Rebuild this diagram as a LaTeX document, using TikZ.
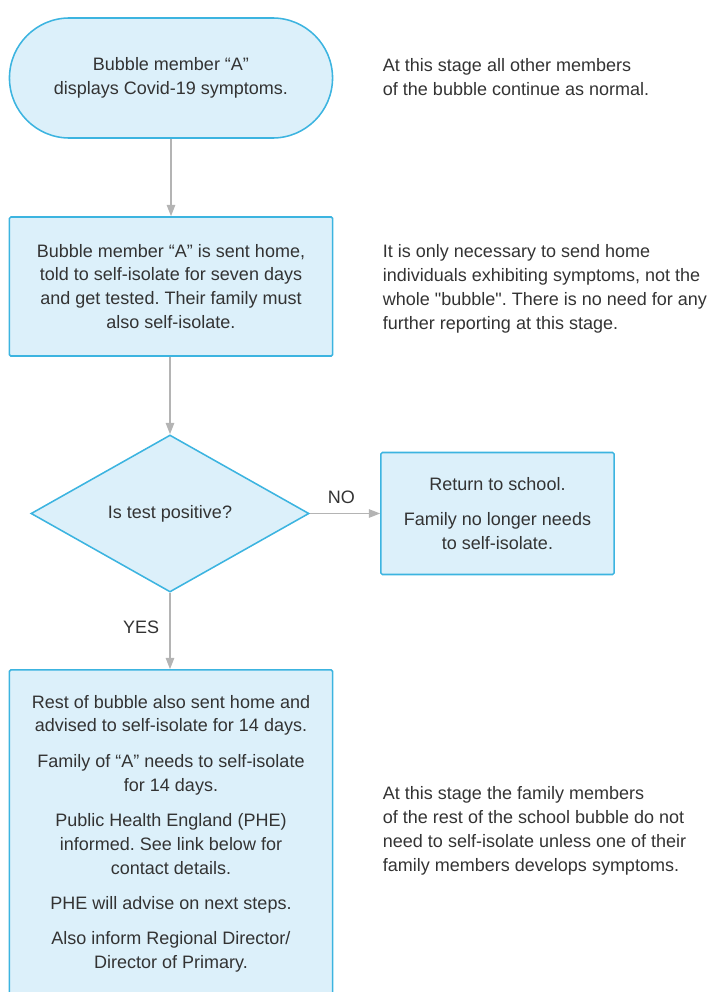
\documentclass[tikz,border=0pt]{standalone}
\usepackage{fontspec}
\setmainfont{Liberation Sans}
\usetikzlibrary{arrows.meta,shapes.geometric}
\definecolor{boxfill}{HTML}{DCF0FA}
\definecolor{boxline}{HTML}{3CB4E0}
\definecolor{flowgray}{HTML}{B4B4B4}
\definecolor{inkgray}{HTML}{333333}
\frenchspacing
\begin{document}
\begin{tikzpicture}[x=0.025cm,y=-0.025cm,>={Triangle[width=6pt,length=8pt]},
  every node/.style={font=\fontsize{12.8}{17}\selectfont,text=inkgray},
  terminal/.style={draw=boxline,fill=boxfill,line width=1.1pt,rounded corners=1.5cm,
    minimum width=8.075cm,minimum height=3cm,align=center},
  process/.style={draw=boxline,fill=boxfill,line width=1.1pt,rounded corners=1pt,
    minimum width=8.075cm,align=center},
  decision/.style={diamond,draw=boxline,fill=boxfill,line width=1.1pt,aspect=1.77,
    minimum width=6.95cm,minimum height=3.925cm,inner sep=0pt,align=center},
  flow/.style={->,draw=flowgray,line width=.9pt},
  note/.style={anchor=west,align=left}]
\useasboundingbox (0,0) rectangle (720,992);
\clip (0,0) rectangle (720,992);
% left column
\node[terminal] (start) at (171,78) {Bubble member “A”\\displays Covid-19 symptoms.};
\node[process,minimum height=3.475cm] (home) at (171,286.5)
  {Bubble member “A” is sent home,\\told to self-isolate for seven days\\and get tested. Their family must\\also self-isolate.};
\node[decision] (test) at (170,513.5) {Is test positive?};
\node[process,minimum width=5.825cm,minimum height=3.05cm] (back) at (497.5,513.5)
  {Return to school.\\[8pt]Family no longer needs\\to self-isolate.};
\node[process,minimum height=8.175cm] (rest) at (171,833.5)
  {Rest of bubble also sent home and\\advised to self-isolate for 14 days.\\[8pt]
   Family of “A” needs to self-isolate\\for 14 days.\\[8pt]
   Public Health England (PHE)\\informed. See link below for\\contact details.\\[8pt]
   PHE will advise on next steps.\\[8pt]
   Also inform Regional Director/\\Director of Primary.};
% connectors
\draw[flow] (start) -- (home);
\draw[flow] (home.south -| test.north) -- (test.north);
\draw[flow] (test.east) -- (back.west) node[pos=.45,above=3pt] {NO};
\draw[flow] (test.south) -- (test.south |- rest.north) node[pos=.45,left=4pt] {YES};
% notes on the right
\node[note] (n1) at (378,77) {At this stage all other members\\of the bubble continue as normal.};
\node[note] (n2) at (378,289) {It is only necessary to send home\\individuals exhibiting symptoms, not the\\whole \textquotedbl bubble\textquotedbl. There is no need for any\\further reporting at this stage.};
\node[note] (n3) at (378,831) {At this stage the family members\\of the rest of the school bubble do not\\need to self-isolate unless one of their\\family members develops symptoms.};
\end{tikzpicture}
\end{document}
